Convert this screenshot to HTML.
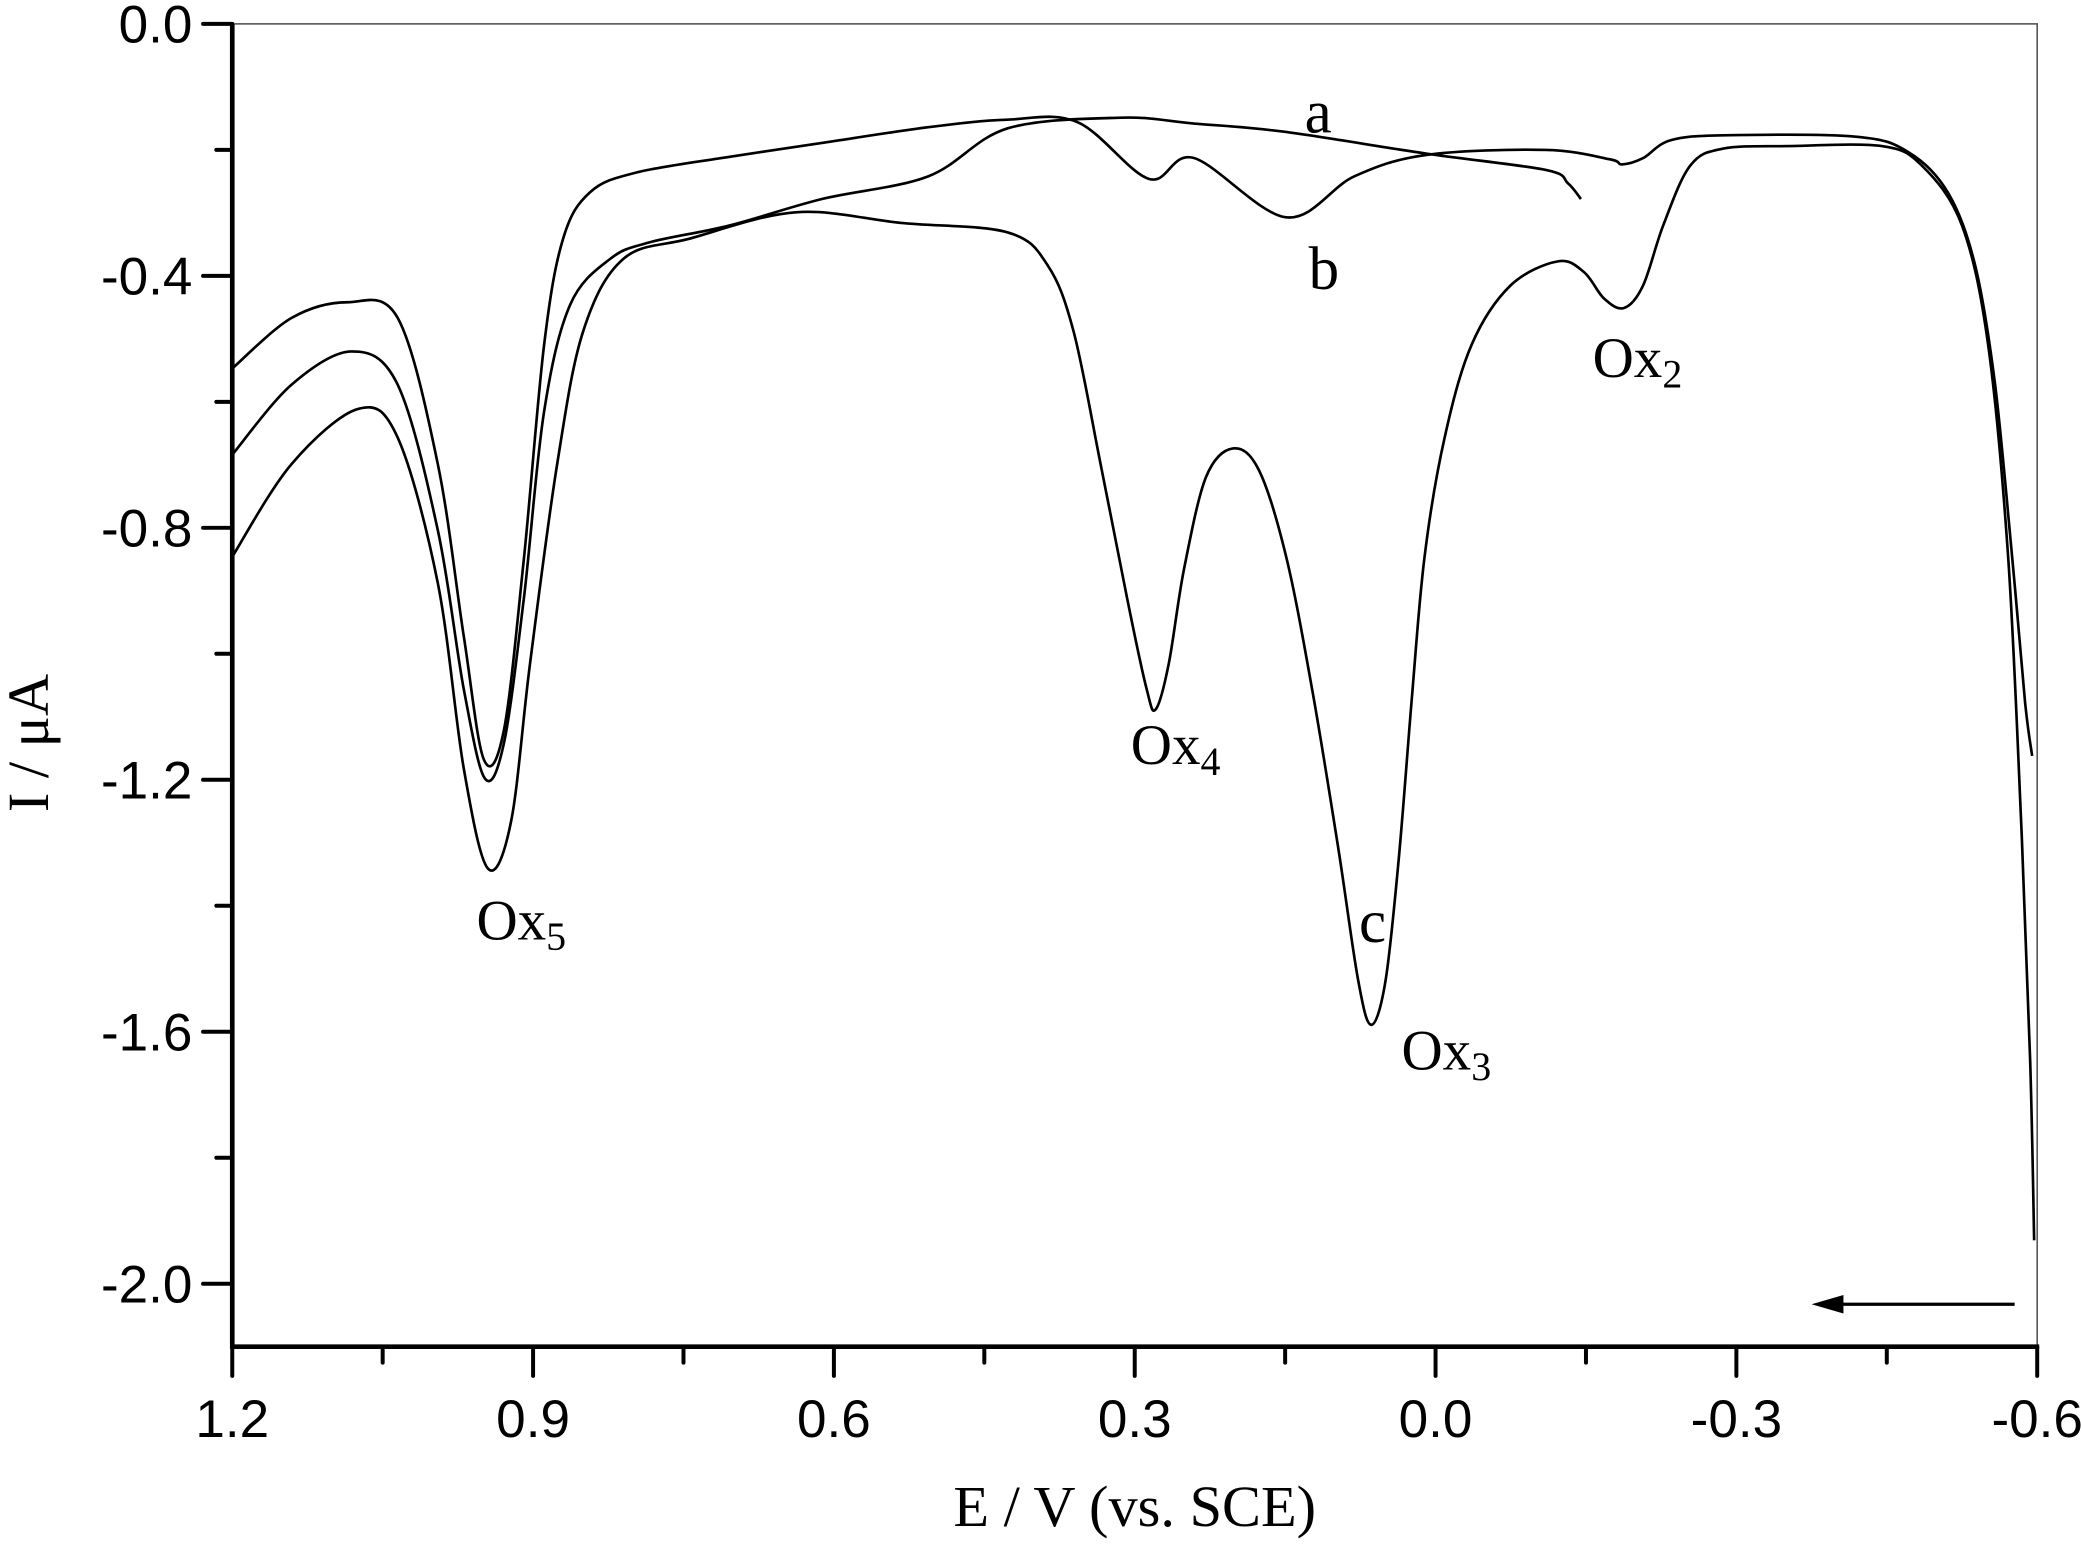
<!DOCTYPE html>
<html><head><meta charset="utf-8">
<style>
html,body{margin:0;padding:0;background:#fff;}
svg{display:block;}
.tk{font-family:"Liberation Sans",sans-serif;font-size:40px;fill:#000;}
.sf{font-family:"Liberation Serif",serif;fill:#000;}
</style></head>
<body>
<svg id="chart" width="2081" height="1555" viewBox="0 0 1568 1172" preserveAspectRatio="none" xmlns="http://www.w3.org/2000/svg">
<g id="plot"></g>
</svg>
<script>
// Series data (E in V, I in µA)
const curveA_E = [1.200,1.141,1.081,1.035,0.995,0.969,0.948,0.929,0.909,0.889,0.863,0.823,0.784,0.704,0.612,0.506,0.427,0.313,0.242,0.152,0.009,-0.110,-0.132,-0.145];
const curveA_I = [-0.684,-0.573,-0.520,-0.573,-0.804,-1.057,-1.198,-1.141,-0.909,-0.615,-0.446,-0.373,-0.347,-0.320,-0.278,-0.242,-0.166,-0.149,-0.158,-0.171,-0.206,-0.232,-0.253,-0.278];
const curveB_E = [1.200,1.141,1.085,1.035,0.995,0.969,0.949,0.929,0.909,0.889,0.870,0.843,0.797,0.704,0.612,0.506,0.427,0.357,0.286,0.241,0.149,0.081,0.009,-0.110,-0.174,-0.186,-0.207,-0.234,-0.287,-0.419,-0.472,-0.511,-0.538,-0.558,-0.575,-0.588,-0.595];
const curveB_I = [-0.547,-0.467,-0.442,-0.467,-0.699,-0.973,-1.168,-1.120,-0.846,-0.509,-0.341,-0.267,-0.236,-0.211,-0.189,-0.164,-0.152,-0.156,-0.246,-0.213,-0.307,-0.242,-0.208,-0.200,-0.215,-0.223,-0.213,-0.185,-0.177,-0.179,-0.204,-0.268,-0.383,-0.573,-0.846,-1.078,-1.162];
const curveC_E = [1.200,1.141,1.074,1.035,0.995,0.969,0.945,0.922,0.903,0.876,0.850,0.810,0.744,0.638,0.533,0.427,0.387,0.361,0.334,0.308,0.288,0.279,0.266,0.251,0.229,0.202,0.176,0.149,0.123,0.097,0.077,0.064,0.050,0.037,0.024,0.011,-0.009,-0.036,-0.075,-0.122,-0.148,-0.168,-0.188,-0.207,-0.227,-0.254,-0.287,-0.353,-0.445,-0.485,-0.525,-0.551,-0.571,-0.584,-0.593,-0.597];
const curveC_I = [-0.846,-0.699,-0.611,-0.657,-0.888,-1.183,-1.341,-1.267,-1.015,-0.699,-0.488,-0.373,-0.341,-0.299,-0.316,-0.331,-0.383,-0.488,-0.699,-0.909,-1.057,-1.088,-1.015,-0.867,-0.720,-0.674,-0.709,-0.846,-1.057,-1.309,-1.520,-1.589,-1.520,-1.331,-1.078,-0.846,-0.657,-0.509,-0.415,-0.377,-0.394,-0.436,-0.451,-0.415,-0.320,-0.225,-0.198,-0.194,-0.194,-0.225,-0.320,-0.509,-0.846,-1.267,-1.646,-1.931];
const xTicks = [1.2,0.9,0.6,0.3,0.0,-0.3,-0.6];
const xTickLabels = ["1.2","0.9","0.6","0.3","0.0","-0.3","-0.6"];
const yTicks = [0.0,-0.4,-0.8,-1.2,-1.6,-2.0];
const yTickLabels = ["0.0","-0.4","-0.8","-1.2","-1.6","-2.0"];

const L=175,R=1535,T=18,B=1015;
const xMin=1.2,xMax=-0.6,yMax=0.0,yMin=-2.1;
function sx(v){return L+(v-xMin)/(xMax-xMin)*(R-L);}
function sy(v){return T+(yMax-v)/(yMax-yMin)*(B-T);}
const NS="http://www.w3.org/2000/svg";
const g=document.getElementById('plot');
function mk(tag,attrs,parent){const e=document.createElementNS(NS,tag);for(const k in attrs)e.setAttribute(k,attrs[k]);(parent||g).appendChild(e);return e;}

// frame
const frame=mk('rect',{x:L,y:T,width:R-L,height:B-T,fill:'none',stroke:'#555','stroke-width':1.2});



function smooth(E,I){
  const p=E.map((e,i)=>[sx(e),sy(I[i])]);
  let d='M'+p[0][0].toFixed(1)+','+p[0][1].toFixed(1);
  for(let i=0;i<p.length-1;i++){
    const p0=p[Math.max(0,i-1)],p1=p[i],p2=p[i+1],p3=p[Math.min(p.length-1,i+2)];
    const c1=[p1[0]+(p2[0]-p0[0])/6,p1[1]+(p2[1]-p0[1])/6];
    const c2=[p2[0]-(p3[0]-p1[0])/6,p2[1]-(p3[1]-p1[1])/6];
    d+=' C'+c1[0].toFixed(1)+','+c1[1].toFixed(1)+' '+c2[0].toFixed(1)+','+c2[1].toFixed(1)+' '+p2[0].toFixed(1)+','+p2[1].toFixed(1);
  }
  return d;
}
const lA=mk('path',{d:smooth(curveA_E,curveA_I),fill:'none',stroke:'#000','stroke-width':2});


const lB=mk('path',{d:smooth(curveB_E,curveB_I),fill:'none',stroke:'#000','stroke-width':2});


const lC=mk('path',{d:smooth(curveC_E,curveC_I),fill:'none',stroke:'#000','stroke-width':2});



// axes
const xa=mk('line',{x1:L-1.5,y1:B,x2:R+1.5,y2:B,stroke:'#000','stroke-width':3.5});


const ya=mk('line',{x1:L,y1:T,x2:L,y2:B+1.5,stroke:'#000','stroke-width':3.5});



for(let v=1.2;v>=-0.6001;v-=0.15){
  const major=Math.abs(Math.round(v/0.3)*0.3-v)<1e-6;
  const t=mk('line',{x1:sx(v),y1:B,x2:sx(v),y2:B+(major?22:12),stroke:'#000','stroke-width':3,'stroke-linecap':'round'});
  
  
}
xTicks.forEach((v,i)=>{
  const t=mk('text',{x:sx(v),y:1083,'text-anchor':'middle',class:'tk'});
  t.textContent=xTickLabels[i];
  
  
});
for(let v=0;v>=-2.1001;v-=0.2){
  const major=Math.abs(Math.round(v/0.4)*0.4-v)<1e-6;
  const t=mk('line',{x1:L,y1:sy(v),x2:L-(major?22:12),y2:sy(v),stroke:'#000','stroke-width':3,'stroke-linecap':'round'});
  
  
}
yTicks.forEach((v,i)=>{
  const t=mk('text',{x:145,y:sy(v)+14,'text-anchor':'end',class:'tk'});
  t.textContent=yTickLabels[i];
  
  
});
</script>
<script>
(function(){
const NS="http://www.w3.org/2000/svg";
const g=document.getElementById('plot');
function txt(x,y,s,sub,size,name){
  const t=document.createElementNS(NS,'text');
  t.setAttribute('x',x);t.setAttribute('y',y);t.setAttribute('class','sf');t.setAttribute('font-size',size);
  t.appendChild(document.createTextNode(s));
  if(sub){const ts=document.createElementNS(NS,'tspan');ts.setAttribute('font-size',size*0.7);ts.setAttribute('dy',8);ts.textContent=sub;t.appendChild(ts);}
  
  
  g.appendChild(t);
}
txt(983,100,'a','',46,'label-a');
txt(986,218,'b','',46,'label-b');
txt(1024,710,'c','',46,'label-c');
txt(359,708,'Ox','5',43,'label-ox5');
txt(852,576,'Ox','4',43,'label-ox4');
txt(1056,806,'Ox','3',43,'label-ox3');
txt(1200,284,'Ox','2',43,'label-ox2');
const xt=document.createElementNS(NS,'text');
xt.setAttribute('x',855);xt.setAttribute('y',1150);xt.setAttribute('text-anchor','middle');xt.setAttribute('class','sf');xt.setAttribute('font-size',44);
xt.textContent='E / V (vs. SCE)';


g.appendChild(xt);
const yt=document.createElementNS(NS,'text');
yt.setAttribute('x',0);yt.setAttribute('y',0);yt.setAttribute('text-anchor','middle');yt.setAttribute('class','sf');yt.setAttribute('font-size',44);
yt.setAttribute('transform','translate(36,560) rotate(-90)');
yt.textContent='I / μA';


g.appendChild(yt);
const ar=document.createElementNS(NS,'line');
ar.setAttribute('x1',1518);ar.setAttribute('y1',983);ar.setAttribute('x2',1385);ar.setAttribute('y2',983);ar.setAttribute('stroke','#000');ar.setAttribute('stroke-width',2.5);


g.appendChild(ar);
const ah=document.createElementNS(NS,'polygon');
ah.setAttribute('points','1365,983 1389,976 1389,990');
ah.setAttribute('fill','#000');


g.appendChild(ah);
})();
</script>
</body></html>
